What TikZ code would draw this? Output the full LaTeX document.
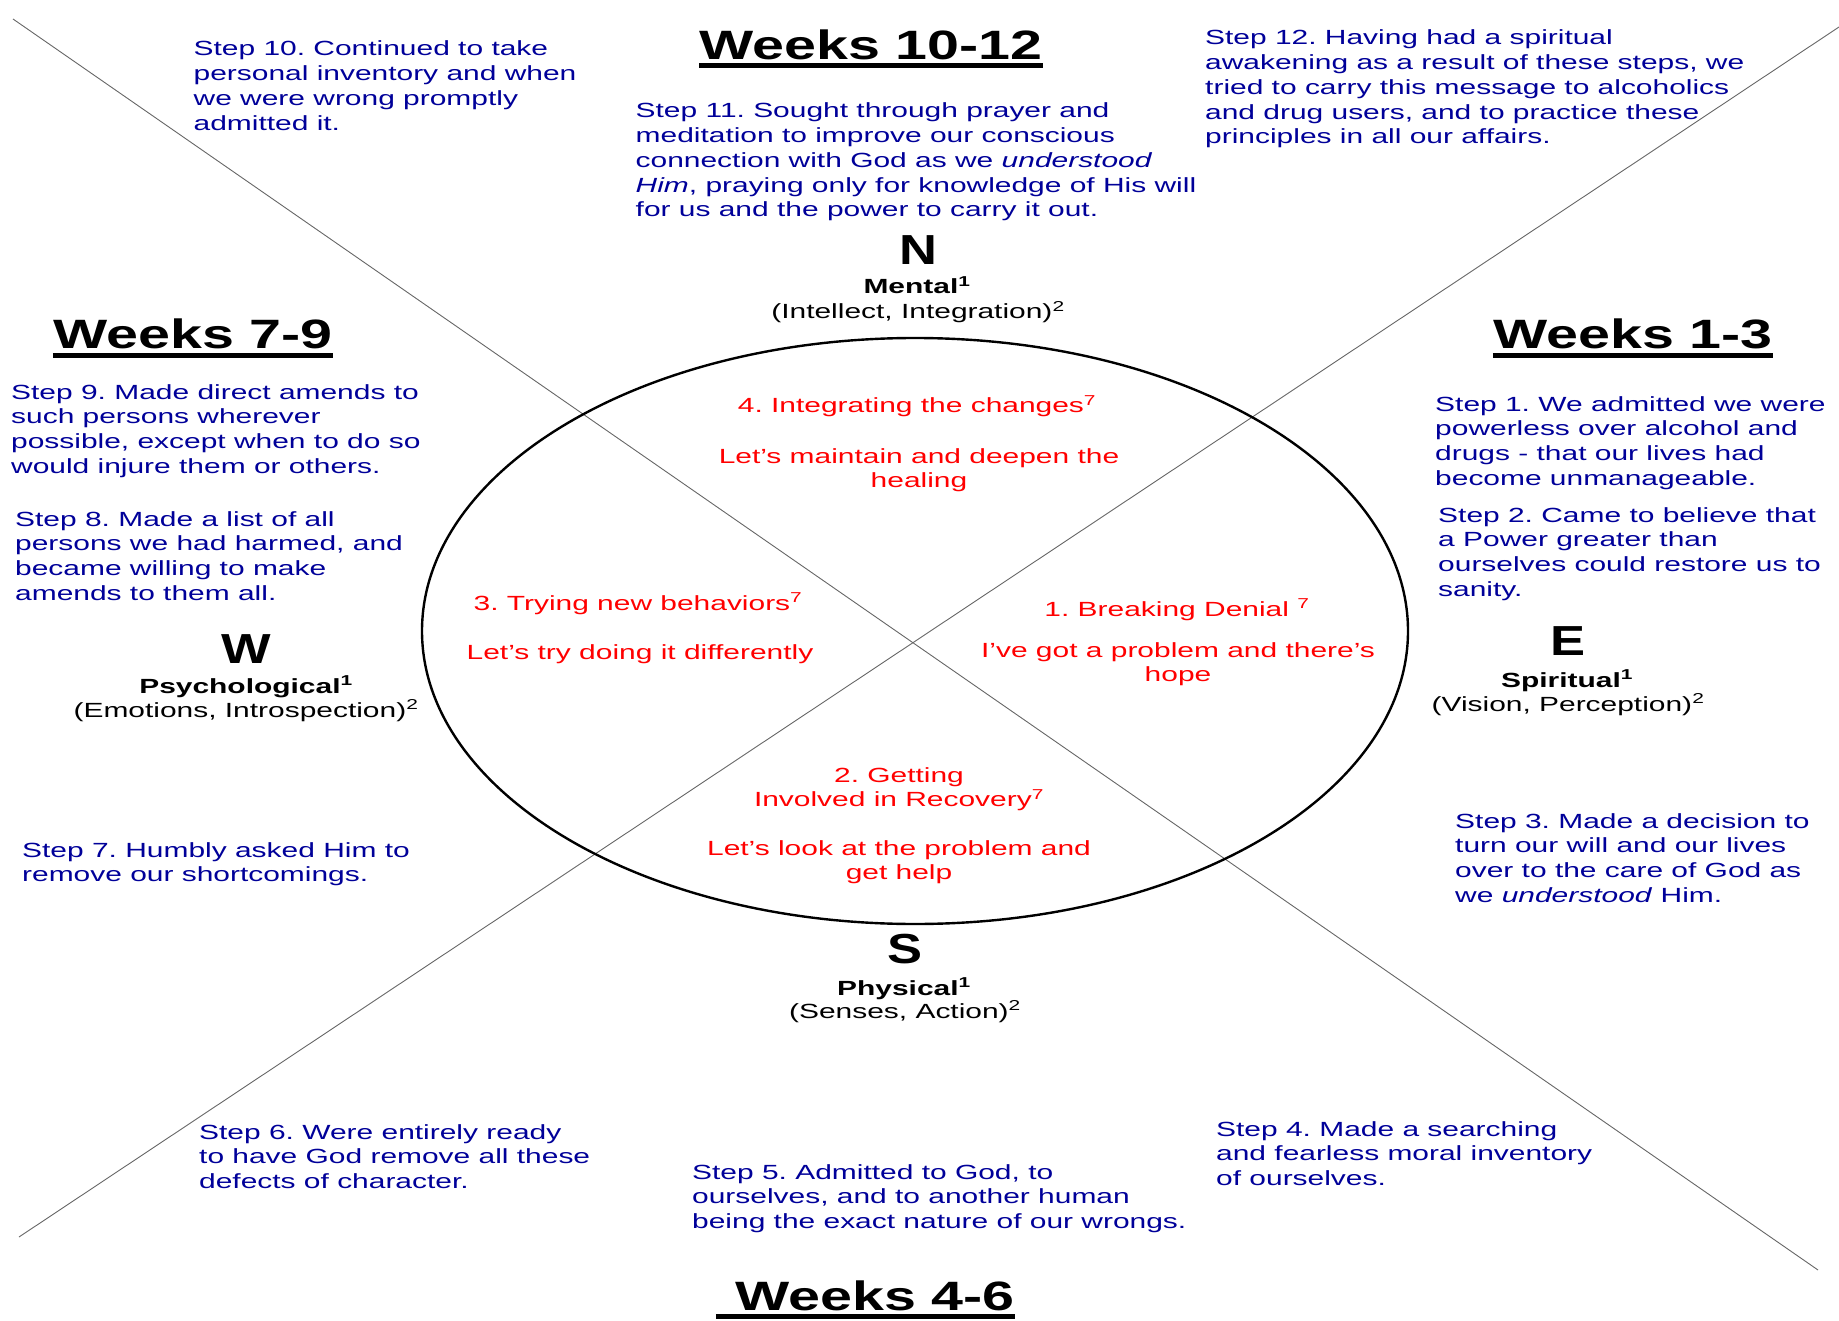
\documentclass[tikz,border=0pt]{standalone}
\usepackage{fontspec}
\usetikzlibrary{shapes.geometric}
\newfontfamily\bodyfont{Liberation Sans}[FakeStretch=1.46]
\newfontfamily\headfont{Liberation Sans}[FakeStretch=1.40]
\newfontfamily\letterfont{Liberation Sans}[FakeStretch=1.25]
\definecolor{stepblue}{RGB}{0,0,153}
\definecolor{phasered}{RGB}{255,0,0}
\frenchspacing
\begin{document}
\begin{tikzpicture}[x=1pt,y=-1pt,
  body/.style={font=\bodyfont\fontsize{20.5}{24.7}\selectfont\frenchspacing, inner sep=0pt},
  steptext/.style={body, text=stepblue, anchor=base west, align=left},
  phasetext/.style={body, text=phasered, anchor=base, align=center},
  weektitle/.style={font=\headfont\bfseries\fontsize{41}{48}\selectfont, inner sep=0pt, anchor=base},
  ulinestyle/.style={line width=5pt},
  dirletter/.style={font=\letterfont\bfseries\fontsize{42}{48}\selectfont, inner sep=0pt, anchor=base},
  dirname/.style={font=\bodyfont\bfseries\fontsize{20.5}{24.7}\selectfont, inner sep=0pt, anchor=base},
  dirsub/.style={body, anchor=base},
  divider/.style={draw=black!60, line width=0.9pt},
  wheelstyle/.style={draw, ellipse, line width=2.4pt, inner sep=0pt, minimum width=986pt, minimum height=586pt}]
\useasboundingbox (0,0) rectangle (1839,1321);

% diagonals
\coordinate (l1a) at (13,19);
\coordinate (l1b) at (1818,1270);
\coordinate (l2a) at (19,1237);
\coordinate (l2b) at (1839,27);
\draw[divider] (l1a) -- (l1b);
\draw[divider] (l2a) -- (l2b);

% wheel
\node[wheelstyle] (wheel) at (915,631) {};

% titles
\node[weektitle] (w1012) at (871,60) {Weeks 10-12};
\draw[ulinestyle] ([yshift=-5.5pt]w1012.base west) -- ([yshift=-5.5pt]w1012.base east);
\node[weektitle] (w79) at (193,349) {Weeks 7-9};
\draw[ulinestyle] ([yshift=-7pt]w79.base west) -- ([yshift=-7pt]w79.base east);
\node[weektitle] (w13) at (1633,349) {Weeks 1-3};
\draw[ulinestyle] ([yshift=-7pt]w13.base west) -- ([yshift=-7pt]w13.base east);
\node[weektitle] (w46) at (875,1310) {Weeks 4-6};
\draw[ulinestyle] ([xshift=-19pt,yshift=-6pt]w46.base west) -- ([yshift=-6pt]w46.base east);

% steps (anchored at the baseline of the last line)
\node[steptext] (s10) at (193.5,130.1) {Step 10. Continued to take\\personal inventory and when\\we were wrong promptly\\admitted it.};
\node[steptext] (s11) at (635.5,216.8) {Step 11. Sought through prayer and\\meditation to improve our conscious\\connection with God as we \textit{understood}\\\textit{Him}, praying only for knowledge of His will\\for us and the power to carry it out.};
\node[steptext] (s12) at (1205,143.8) {Step 12. Having had a spiritual\\awakening as a result of these steps, we\\tried to carry this message to alcoholics\\and drug users, and to practice these\\principles in all our affairs.};
\node[steptext] (s9) at (11,473.1) {Step 9. Made direct amends to\\such persons wherever\\possible, except when to do so\\would injure them or others.};
\node[steptext] (s8) at (15,600.1) {Step 8. Made a list of all\\persons we had harmed, and\\became willing to make\\amends to them all.};
\node[steptext] (s7) at (22,881.7) {Step 7. Humbly asked Him to\\remove our shortcomings.};
\node[steptext] (s1) at (1435,485.1) {Step 1. We admitted we were\\powerless over alcohol and\\drugs - that our lives had\\become unmanageable.};
\node[steptext] (s2) at (1438,596.1) {Step 2. Came to believe that\\a Power greater than\\ourselves could restore us to\\sanity.};
\node[steptext] (s3) at (1455,902.1) {Step 3. Made a decision to\\turn our will and our lives\\over to the care of God as\\we \textit{understood} Him.};
\node[steptext] (s6) at (199,1188.4) {Step 6. Were entirely ready\\to have God remove all these\\defects of character.};
\node[steptext] (s5) at (692,1228.4) {Step 5. Admitted to God, to\\ourselves, and to another human\\being the exact nature of our wrongs.};
\node[steptext] (s4) at (1216,1185.4) {Step 4. Made a searching\\and fearless moral inventory\\of ourselves.};

% directions
\node[dirletter] (nN) at (918,265) {N};
\node[dirname] (nMental) at (917,294) {Mental\textsuperscript{1}};
\node[dirsub] (nMentalSub) at (918,319) {(Intellect, Integration)\textsuperscript{2}};
\node[dirletter] (nW) at (246,663) {W};
\node[dirname] (nPsy) at (246,693) {Psychological\textsuperscript{1}};
\node[dirsub] (nPsySub) at (246,717) {(Emotions, Introspection)\textsuperscript{2}};
\node[dirletter] (nE) at (1568,655) {E};
\node[dirname] (nSpi) at (1567,687) {Spiritual\textsuperscript{1}};
\node[dirsub] (nSpiSub) at (1568,711) {(Vision, Perception)\textsuperscript{2}};
\node[dirletter] (nS) at (905,963) {S};
\node[dirname] (nPhy) at (904,995) {Physical\textsuperscript{1}};
\node[dirsub] (nPhySub) at (905,1018) {(Senses, Action)\textsuperscript{2}};

% phases
\node[phasetext] (p4a) at (917,413) {4. Integrating the changes\textsuperscript{7}};
\node[phasetext] (p4b) at (919,487.7) {Let’s maintain and deepen the\\healing};
\node[phasetext] (p3a) at (638,610) {3. Trying new behaviors\textsuperscript{7}};
\node[phasetext] (p3b) at (640,659) {Let’s try doing it differently};
\node[phasetext] (p1a) at (1177,616) {1. Breaking Denial \textsuperscript{7}};
\node[phasetext] (p1b) at (1178,681.7) {I’ve got a problem and there’s\\hope};
\node[phasetext] (p2a) at (899,806.7) {2. Getting\\Involved in Recovery\textsuperscript{7}};
\node[phasetext] (p2b) at (899,879.7) {Let’s look at the problem and\\get help};
\end{tikzpicture}
\end{document}
